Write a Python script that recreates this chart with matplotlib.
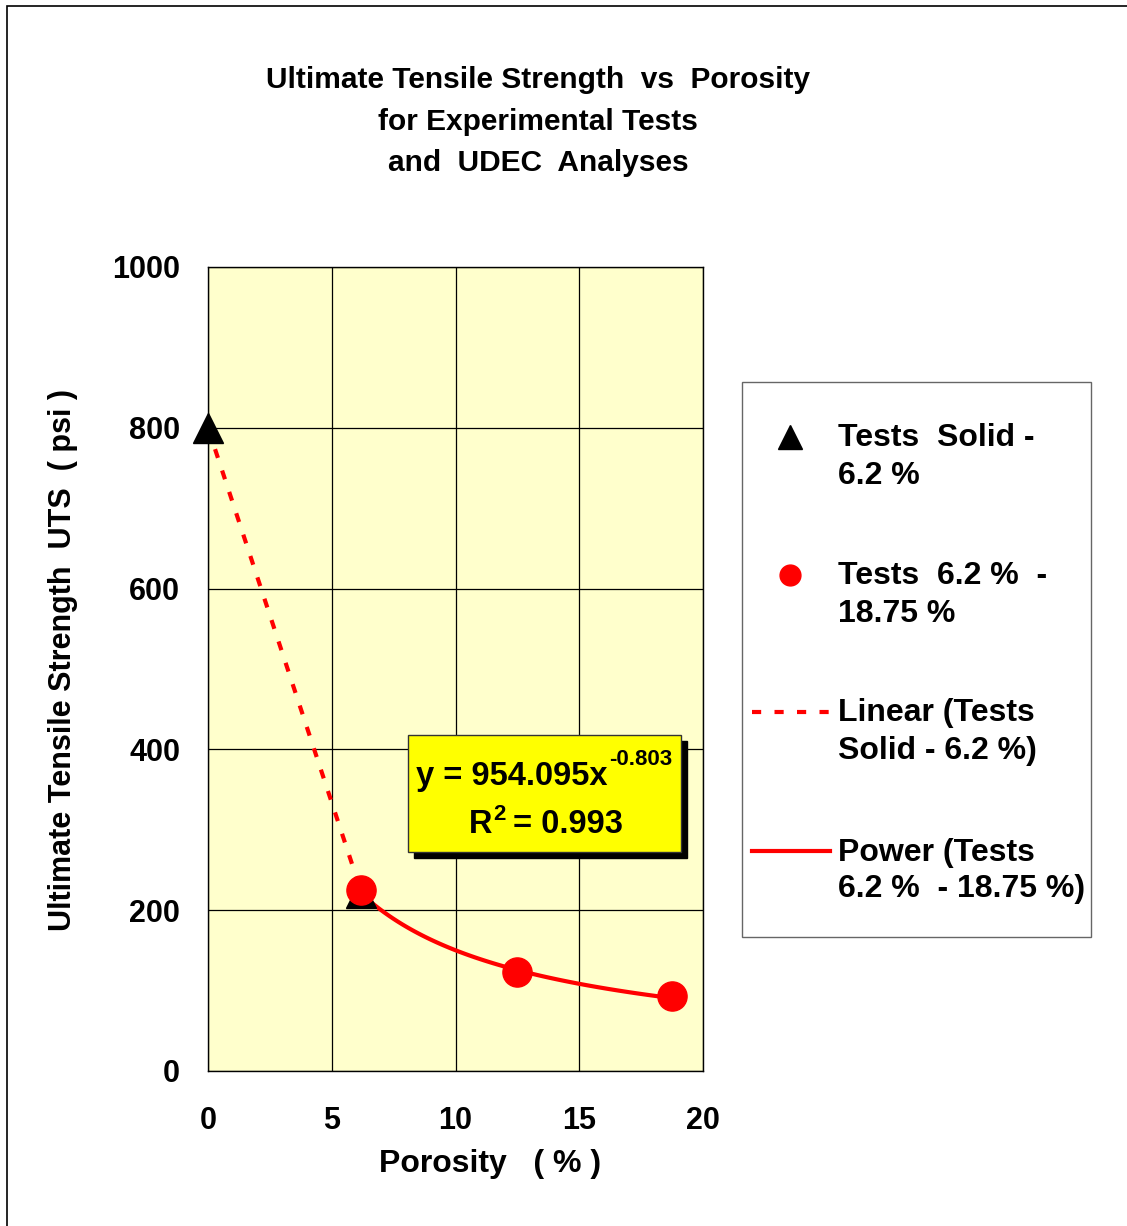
import matplotlib
matplotlib.use("Agg")
import matplotlib.pyplot as plt
from matplotlib.lines import Line2D
from matplotlib.patches import Rectangle
import numpy as np

plt.rcParams['font.family'] = ['Liberation Sans', 'DejaVu Sans']
plt.rcParams['font.weight'] = 'bold'

##### data
solid_x = [0.0, 6.2]
solid_y = [800, 222]
tests_x = [6.2, 12.5, 18.75]
tests_y = [225, 123, 93]
# power trendline as printed on the chart
pow_a = 954.095
pow_b = -0.803
r2 = 0.993
xticks = [0, 5, 10, 15, 20]
yticks = [0, 200, 400, 600, 800, 1000]

W, H = 1127, 1226
fig = plt.figure(figsize=(W / 100, H / 100), dpi=100)

def fx(px):
    return px / W

def fy(py):
    return 1 - py / H

def rect(x0, y0, x1, y1, **kw):
    # rectangle given in pixel coords of the picture (y down)
    r = Rectangle((fx(x0), fy(y1)), fx(x1 - x0), fy(y0) - fy(y1),
                  transform=fig.transFigure, **kw)
    fig.patches.append(r)
    return r

# outer chart border (only top/left visible in the picture)
rect(7, 6, 1300, 1300, fill=False, edgecolor='black', lw=1.2)

ax = fig.add_axes([fx(208), fy(1071), fx(703) - fx(208), fy(267) - fy(1071)])
ax.set_facecolor('#FFFFCC')
ax.set_xlim(0, 20)
ax.set_ylim(0, 1000)
ax.set_xticks(xticks)
ax.set_yticks(yticks)
ax.grid(True, color='black', lw=0.9)
ax.set_axisbelow(True)
for s in ax.spines.values():
    s.set_color('black')
    s.set_linewidth(1)
ax.tick_params(length=0, labelsize=22)
ax.tick_params(axis='y', pad=20)
ax.tick_params(axis='x', pad=25)
for lab in ax.get_xticklabels() + ax.get_yticklabels():
    lab.set_fontweight('bold')

dash = (0, (2.2, 3.2))
# trendlines
ax.plot(solid_x, solid_y, color='red', lw=3, ls=dash, zorder=3)
xf = np.linspace(tests_x[0], tests_x[-1], 100)
ax.plot(xf, pow_a * xf ** pow_b, color='red', lw=3, zorder=3)

# markers
ax.plot(solid_x, solid_y, ls='none', marker='^', ms=21, color='black', zorder=4, clip_on=False)
ax.plot(tests_x, tests_y, ls='none', marker='o', ms=21, color='red', zorder=5, clip_on=False)

# equation box with shadow
rect(414, 741, 687, 858, facecolor='black', edgecolor='black', zorder=5)
rect(408, 735, 681, 852, facecolor='#FFFF00', edgecolor='#333333', lw=1, zorder=6)
fig.text(fx(416), fy(785), 'y = 954.095x', fontsize=23.5, fontweight='bold',
         ha='left', va='baseline', zorder=7)
fig.text(fx(609), fy(765), f'{pow_b:.3f}', fontsize=16, fontweight='bold',
         ha='left', va='baseline', zorder=7)
fig.text(fx(469), fy(833), 'R', fontsize=23.5, fontweight='bold', ha='left', va='baseline', zorder=7)
fig.text(fx(493), fy(820), '2', fontsize=16, fontweight='bold', ha='left', va='baseline', zorder=7)
fig.text(fx(513), fy(833), f'= {r2:.3f}', fontsize=23.5, fontweight='bold', ha='left', va='baseline', zorder=7)

# title and axis labels
title = ['Ultimate Tensile Strength  vs  Porosity', 'for Experimental Tests', 'and  UDEC  Analyses']
for i, line in enumerate(title):
    fig.text(fx(538), fy(88 + 41.5 * i), line, fontsize=21.5, fontweight='bold',
             ha='center', va='baseline')
fig.text(fx(490), fy(1164), 'Porosity   ( % )', fontsize=23, fontweight='bold', ha='center', va='center')
fig.text(fx(63), fy(660), 'Ultimate Tensile Strength  UTS  ( psi )', fontsize=22, fontweight='bold',
         ha='center', va='center', rotation=90)

# legend, drawn by hand so the keys sit on the first text line like in the original
rect(742, 382, 1091, 937, facecolor='white', edgecolor='#666666', lw=1, zorder=1)
leg_labels = [('Tests  Solid -', '6.2 %'), ('Tests  6.2 %  -', '18.75 %'),
              ('Linear (Tests', 'Solid - 6.2 %)'), ('Power (Tests', '6.2 %  - 18.75 %)')]
leg_y = [435, 573, 710, 849]
keys = [dict(marker='^', ms=17, color='black', ls='none'),
        dict(marker='o', ms=15, color='red', ls='none'),
        dict(color='red', lw=3, ls=dash),
        dict(color='red', lw=3)]
for (l1, l2), y, k in zip(leg_labels, leg_y, keys):
    if k.get('ls') == 'none':
        xs = [fx(790)]
    else:
        xs = [fx(752), fx(830)]
    fig.add_artist(Line2D(xs, [fy(y + 2)] * len(xs), transform=fig.transFigure, zorder=2, **k))
    fig.text(fx(838), fy(y), l1, fontsize=23, fontweight='bold', ha='left', va='center_baseline', zorder=2)
    fig.text(fx(838), fy(y + 37), l2, fontsize=23, fontweight='bold', ha='left', va='center_baseline', zorder=2)

fig.savefig('out.png', dpi=100)
